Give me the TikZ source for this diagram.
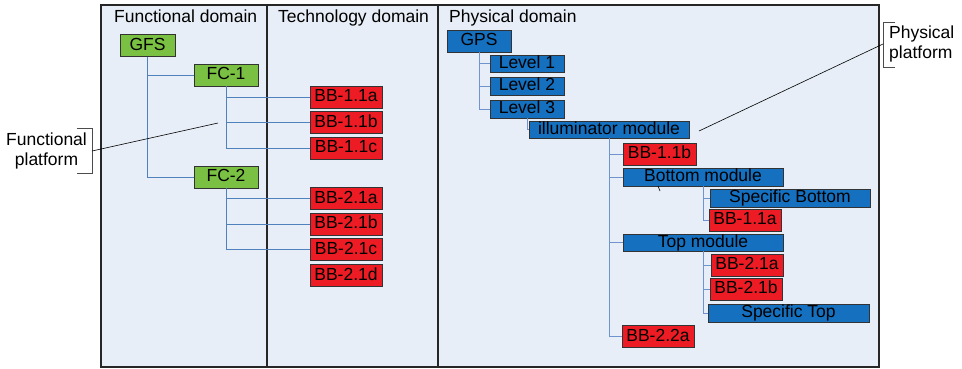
\documentclass[tikz,border=0pt]{standalone}
\usepackage{fontspec}
\setmainfont{Liberation Sans}
\definecolor{panelbg}{HTML}{E8EEF7}
\definecolor{gfill}{HTML}{7AC143}
\definecolor{rfill}{HTML}{ED1C24}
\definecolor{bfill}{HTML}{1570C0}
\definecolor{conn}{HTML}{4F81BD}
\definecolor{connp}{HTML}{6F93CC}
\begin{document}
\begin{tikzpicture}[x=1pt,y=-1pt,
  every node/.style={font=\fontsize{17.5}{19.5}\selectfont},
  panel/.style={draw=black!85, line width=1.1pt, fill=panelbg},
  box/.style={draw=black!80, line width=0.8pt, inner sep=0pt, text height=12.5pt, text depth=3.5pt, minimum height=22pt},
  gbox/.style={box, fill=gfill},
  rbox/.style={box, fill=rfill, minimum width=72pt},
  bbox/.style={box, fill=bfill},
  cline/.style={draw=conn, line width=0.8pt},
  pline/.style={draw=connp, line width=0.8pt},
  callout/.style={draw=black, line width=0.6pt},
  brack/.style={draw=black!70, line width=0.7pt},
  title/.style={anchor=base west, inner sep=0pt}]
\useasboundingbox (0,0) rectangle (962,368);
\fill[white] (0,0) rectangle (962,368);
% panels
\draw[panel] (101,5) rectangle (267,367);
\draw[panel] (267,5) rectangle (438,367);
\draw[panel] (438,5) rectangle (879,367);
\node[title] (tf) at (114,22) {Functional domain};
\node[title] (tt) at (278,22) {Technology domain};
\node[title] (tp) at (449,22) {Physical domain};
% functional / technology
\node[gbox, minimum width=55pt] (gfs) at (147.5,45.5) {GFS};
\node[gbox, minimum width=64pt] (fc1) at (226,75) {FC-1};
\node[gbox, minimum width=64pt] (fc2) at (226,177) {FC-2};
\node[rbox] (t11a) at (346,97) {BB-1.1a};
\node[rbox] (t11b) at (346,122.5) {BB-1.1b};
\node[rbox] (t11c) at (346,148) {BB-1.1c};
\node[rbox] (t21a) at (346,198.5) {BB-2.1a};
\node[rbox] (t21b) at (346,224) {BB-2.1b};
\node[rbox] (t21c) at (346,249.5) {BB-2.1c};
\node[rbox] (t21d) at (346,275.5) {BB-2.1d};
\draw[cline] (gfs.south) |- (fc1.west);
\draw[cline] (gfs.south) |- (fc2.west);
\draw[cline] (fc1.south) |- (t11a.west);
\draw[cline] (fc1.south) |- (t11b.west);
\draw[cline] (fc1.south) |- (t11c.west);
\draw[cline] (fc2.south) |- (t21a.west);
\draw[cline] (fc2.south) |- (t21b.west);
\draw[cline] (fc2.south) |- (t21c.west);
% physical
\node[bbox, minimum width=64pt] (gps) at (479,41) {GPS};
\node[bbox, minimum width=74pt, minimum height=17pt] (l1) at (527,63.5) {Level 1};
\node[bbox, minimum width=74pt, minimum height=18pt] (l2) at (527,86) {Level 2};
\node[bbox, minimum width=74pt, minimum height=18pt] (l3) at (527,109) {Level 3};
\node[bbox, minimum width=160pt, minimum height=17pt] (ill) at (609,129.5) {illuminator module};
\node[rbox, minimum width=73pt] (p11b) at (659.5,154) {BB-1.1b};
\node[bbox, minimum width=160pt, minimum height=18pt] (bot) at (703,177) {Bottom module};
\node[bbox, minimum width=160pt, minimum height=18pt] (sbot) at (790,198) {Specific Bottom};
\node[rbox] (p11a) at (745,220) {BB-1.1a};
\node[bbox, minimum width=160pt, minimum height=17pt] (top) at (703,242.5) {Top module};
\node[rbox] (p21a) at (747,265) {BB-2.1a};
\node[rbox] (p21b) at (746,289) {BB-2.1b};
\node[bbox, minimum width=161pt, minimum height=18pt] (stop) at (788.5,313) {Specific Top};
\node[rbox] (p22a) at (658,336.5) {BB-2.2a};
\draw[pline] (gps.south) |- (l1.west);
\draw[pline] (gps.south) |- (l2.west);
\draw[pline] (gps.south) |- (l3.west);
\draw[pline] (l3.south) |- (ill.west);
\draw[pline] (ill.south) |- (p11b.west);
\draw[pline] (ill.south) |- (bot.west);
\draw[pline] (ill.south) |- (top.west);
\draw[pline] (ill.south) |- (p22a.west);
\draw[pline] (bot.south) |- (sbot.west);
\draw[pline] (bot.south) |- (p11a.west);
\draw[pline] (top.south) |- (p21a.west);
\draw[pline] (top.south) |- (p21b.west);
\draw[pline] (top.south) |- (stop.west);
% stray tick
\coordinate (s1) at (658,186);
\coordinate (s2) at (660,191);
\draw[callout] (s1) -- (s2);
% callouts
\node[align=center, inner sep=0pt] (fp) at (46.5,151) {Functional\\platform};
\draw[brack] (77,128) -- (92,128) -- (92,173) -- (77,173);
\coordinate (fpb) at (92,151);
\coordinate (fpe) at (218,123);
\draw[callout] (fpb) -- (fpe);
\node[align=left, inner sep=0pt, anchor=west] (pp) at (889,44) {Physical\\platform};
\draw[brack] (895,22) -- (883,22) -- (883,67) -- (895,67);
\coordinate (ppb) at (883,44);
\coordinate (ppe) at (699,131);
\draw[callout] (ppb) -- (ppe);
\end{tikzpicture}
\end{document}
